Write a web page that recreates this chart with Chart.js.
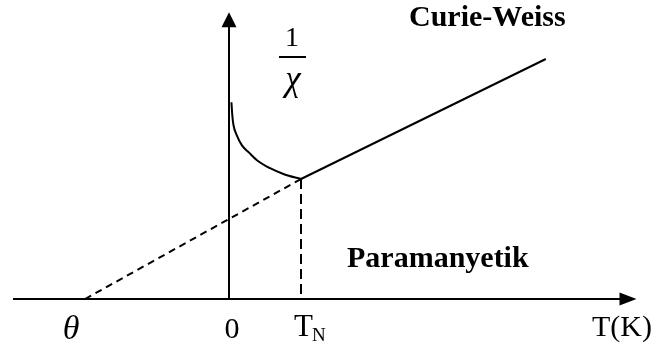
<!DOCTYPE html>
<html>
<head>
<meta charset="utf-8">
<script src="https://cdn.jsdelivr.net/npm/chart.js@4/dist/chart.umd.min.js"></script>
<style>
  html, body { margin: 0; padding: 0; background: #fff; }
  #wrap { width: 655px; height: 350px; }
</style>
</head>
<body>
<div id="wrap"><canvas id="myChart"></canvas></div>
<script>
// temperature (arbitrary K units) and inverse susceptibility
const neelTemp = 50;
const thetaTemp = -100;

// antiferromagnetic branch below T_N
const afmT = [1.7, 2.3, 3.1, 5.2, 9.0, 13.9, 20.1, 28.5, 38.2, 50];
const afmInvChi = [164, 153, 145, 137, 128, 122, 115, 109, 104, 100];

// Curie-Weiss line above T_N
const cwT = [50, 220];
const cwInvChi = [100, 200];

// extrapolation down to theta
const extrapT = [-100, 50];
const extrapInvChi = [0, 100];

// drop line at T_N
const neelT = [50, 50];
const neelInvChi = [100, 0];

const xLabels = ['θ', '0'];
const xLabelValues = [thetaTemp, 0];

function pts(xs, ys) {
    return xs.map((x, i) => ({ x: x, y: ys[i] }));
}

const serif = "'Liberation Serif', 'Times New Roman', serif";

const axesAndText = {
    id: 'axesAndText',
    beforeDatasetsDraw(chart) {
        const c = chart.ctx;
        const xs = chart.scales.x, ys = chart.scales.y;
        const x0 = xs.getPixelForValue(0), y0 = ys.getPixelForValue(0);
        const xStart = xs.getPixelForValue(-150), xTip = xs.getPixelForValue(283);
        const yTip = ys.getPixelForValue(239);
        c.save();
        c.strokeStyle = '#000';
        c.fillStyle = '#000';
        c.lineWidth = 2;
        // horizontal axis
        c.beginPath();
        c.moveTo(xStart, y0);
        c.lineTo(xTip - 10, y0);
        c.stroke();
        c.beginPath();
        c.moveTo(xTip, y0);
        c.lineTo(xTip - 17, y0 - 6.5);
        c.lineTo(xTip - 17, y0 + 6.5);
        c.closePath();
        c.fill();
        // vertical axis
        c.beginPath();
        c.moveTo(x0, y0);
        c.lineTo(x0, yTip + 10);
        c.stroke();
        c.beginPath();
        c.moveTo(x0, yTip);
        c.lineTo(x0 - 7.5, yTip + 15);
        c.lineTo(x0 + 7.5, yTip + 15);
        c.closePath();
        c.fill();
        c.restore();
    },
    afterDatasetsDraw(chart) {
        const c = chart.ctx;
        const xs = chart.scales.x;
        c.save();
        c.fillStyle = '#000';
        c.textBaseline = 'alphabetic';
        // tick labels under the axis
        c.textAlign = 'center';
        c.font = 'italic 34px ' + serif;
        c.fillText(xLabels[0], xs.getPixelForValue(xLabelValues[0]) - 14, 339);
        c.font = '30px ' + serif;
        c.fillText(xLabels[1], xs.getPixelForValue(xLabelValues[1]) + 3, 338);
        c.textAlign = 'left';
        const tn = xs.getPixelForValue(neelTemp) - 7;
        c.font = '31px ' + serif;
        c.fillText('T', tn, 336);
        const tw = c.measureText('T').width;
        c.font = '19px ' + serif;
        c.fillText('N', tn + tw - 1, 341);
        c.font = '30px ' + serif;
        c.fillText('T(K)', 592, 336);
        // 1/chi axis title
        c.textAlign = 'center';
        c.font = '28px ' + serif;
        c.fillText('1', 292, 46);
        c.lineWidth = 2;
        c.beginPath();
        c.moveTo(279, 57);
        c.lineTo(306, 57);
        c.stroke();
        c.font = 'italic 35px ' + serif;
        c.fillText('χ', 293, 90);
        // region labels
        c.textAlign = 'left';
        c.font = 'bold 30px ' + serif;
        c.fillText('Curie-Weiss', 409, 26);
        c.fillText('Paramanyetik', 347, 267);
        c.restore();
    }
};

const ctx = document.getElementById('myChart').getContext('2d');
const myChart = new Chart(ctx, {
    type: 'scatter',
    data: {
        datasets: [
            {
                data: pts(afmT, afmInvChi),
                showLine: true,
                borderColor: '#000',
                borderWidth: 2,
                cubicInterpolationMode: 'monotone',
                pointRadius: 0
            },
            {
                data: pts(cwT, cwInvChi),
                showLine: true,
                borderColor: '#000',
                borderWidth: 2,
                pointRadius: 0
            },
            {
                data: pts(extrapT, extrapInvChi),
                showLine: true,
                borderColor: '#000',
                borderWidth: 2,
                borderDash: [7, 5],
                pointRadius: 0
            },
            {
                data: pts(neelT, neelInvChi),
                showLine: true,
                borderColor: '#000',
                borderWidth: 2,
                borderDash: [10, 5],
                pointRadius: 0
            }
        ]
    },
    options: {
        responsive: true,
        maintainAspectRatio: false,
        animation: false,
        layout: { padding: { left: 13, right: 8.4, top: 11, bottom: 3 } },
        plugins: {
            legend: { display: false },
            tooltip: { enabled: false }
        },
        scales: {
            x: { type: 'linear', min: -150, max: 290, display: false },
            y: { type: 'linear', min: -40, max: 240, display: false }
        }
    },
    plugins: [axesAndText]
});
</script>
</body>
</html>
